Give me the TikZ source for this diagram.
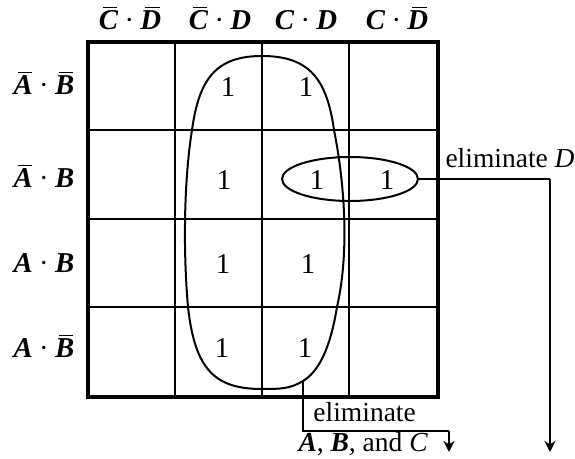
\documentclass[tikz,border=0pt]{standalone}
\usepackage{fontspec}
\setmainfont{Liberation Serif}
\usetikzlibrary{arrows.meta,shapes.geometric}
\newcommand\lit[1]{\textbf{\textit{#1}}}
\newcommand\nlit[1]{\setbox0\hbox{\lit{#1}}\rlap{\hspace{0.2\wd0}\raisebox{1.15\ht0}{\rule{0.75\wd0}{0.55pt}}}\box0}
\newcommand\andd{\hspace{0.22em}·\hspace{0.22em}}
\begin{document}
\begin{tikzpicture}[x=0.4pt, y=-0.4pt,
    one/.style={font=\fontsize{11.5}{13}\selectfont, inner sep=0pt},
    head/.style={font=\fontsize{11.5}{13}\selectfont, anchor=base, inner sep=0pt},
    txt/.style={font=\fontsize{11}{13}\selectfont, anchor=base west, inner sep=0pt},
    loop/.style={line width=0.8pt},
    arr/.style={line width=0.6pt, -{Stealth[length=4.5pt, width=4.5pt]}}]
    \useasboundingbox (0,0) rectangle (575,459);
    % map
    \draw[line width=0.6pt] (175,42) -- (175,397) (262,42) -- (262,397) (349,42) -- (349,397);
    \draw[line width=0.6pt] (88,130) -- (438,130) (88,219) -- (438,219) (88,307) -- (438,307);
    \draw[line width=1.6pt] (88,42) rectangle (438,397);
    % column and row heads
    \node[head] (cd00) at (130,30) {\nlit{C}\andd\nlit{D}};
    \node[head] (cd01) at (220,30) {\nlit{C}\andd\lit{D}};
    \node[head] (cd11) at (306,30) {\lit{C}\andd\lit{D}};
    \node[head] (cd10) at (397,30) {\lit{C}\andd\nlit{D}};
    \node[head] (ab00) at (44,95)  {\nlit{A}\andd\nlit{B}};
    \node[head] (ab01) at (44,188) {\nlit{A}\andd\lit{B}};
    \node[head] (ab11) at (44,273) {\lit{A}\andd\lit{B}};
    \node[head] (ab10) at (44,358) {\lit{A}\andd\nlit{B}};
    % ones
    \node[one] (m1)  at (228,87)  {1};
    \node[one] (m5)  at (306,87)  {1};
    \node[one] (m2)  at (224,180) {1};
    \node[one] (m6)  at (317,180) {1};
    \node[one] (m7)  at (387,180) {1};
    \node[one] (m3)  at (223,264) {1};
    \node[one] (m4)  at (308,264) {1};
    \node[one] (m8)  at (222,348) {1};
    \node[one] (m9)  at (305,348) {1};
    % groups
    \node[loop, draw, ellipse, minimum width=54.4pt, minimum height=17.6pt] (grpD) at (350,179) {};
    \draw[loop] (262,56) .. controls (310,56) and (327,80) .. (334,130)
      .. controls (344,180) and (350,250) .. (337,307)
      .. controls (330,350) and (318,372) .. (303,381)
      .. controls (290,389) and (280,389) .. (262,389)
      .. controls (215,389) and (195,370) .. (188,307)
      .. controls (183,250) and (184,180) .. (192,130)
      .. controls (199,80) and (215,56) .. (262,56) -- cycle;
    \coordinate (grpABC) at (303,381);
    % eliminations
    \coordinate (kD) at (550,179);
    \coordinate (kABC) at (303,431);
    \coordinate (kABC2) at (449,431);
    \node[txt] (elimD) at (445,168) {eliminate \textit{D}};
    \node[txt] (elimA) at (313,422) {eliminate};
    \node[txt] (elimB) at (298,452) {\lit{A}, \lit{B}, and \textit{C}};
    \draw[line width=0.6pt] (grpD.east) -- (kD);
    \draw[arr] (kD) -- (550,452);
    \draw[line width=0.6pt] (grpABC) -- (kABC) -- (kABC2);
    \draw[arr] (kABC2) -- (449,452);
\end{tikzpicture}
\end{document}
